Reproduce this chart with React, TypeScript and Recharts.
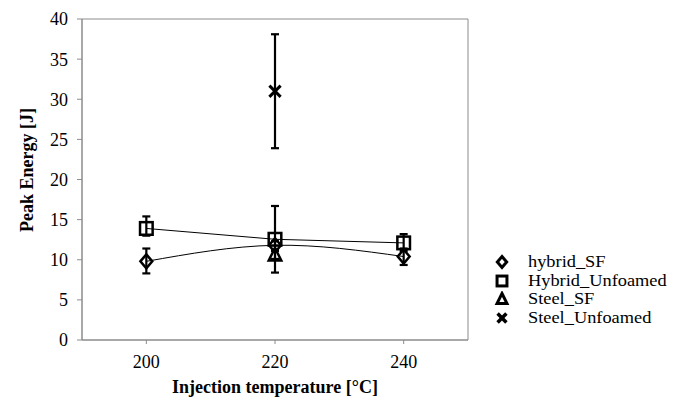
import {
  ComposedChart,
  Line,
  XAxis,
  YAxis,
  ErrorBar,
  ReferenceArea,
  Label,
} from "recharts";

const temps = [200, 220, 240];
const hybridSF = [9.8, 11.8, 10.4];
const hybridSFErr = [[1.5, 1.6], [0.5, 0.5], [1.05, 1.0]];
const hybridUnfoamed = [13.9, 12.55, 12.1];
const hybridUnfoamedErr = [[0.9, 1.5], [4.15, 4.15], [1.0, 1.1]];
const steelSF = [null, 10.6, null];
const steelSFErr = [null, [0.5, 0.5], null];
const steelUnfoamed = [null, 31, null];
const steelUnfoamedErr = [null, [7.1, 7.1], null];

const xTicks = [200, 220, 240];
const yTicks = [0, 5, 10, 15, 20, 25, 30, 35, 40];
const seriesNames = ["hybrid_SF", "Hybrid_Unfoamed", "Steel_SF", "Steel_Unfoamed"];

const rows = temps.map((t, i) => ({
  t,
  hybridSF: hybridSF[i],
  hybridSFErr: hybridSFErr[i],
  hybridUnfoamed: hybridUnfoamed[i],
  hybridUnfoamedErr: hybridUnfoamedErr[i],
  steelSF: steelSF[i],
  steelSFErr: steelSFErr[i],
  steelUnfoamed: steelUnfoamed[i],
  steelUnfoamedErr: steelUnfoamedErr[i],
}));

const FONT = "Liberation Serif, Times New Roman, serif";
const AXIS = "#8c8c8c";

type Shape = "diamond" | "square" | "triangle" | "cross";
const shapes: Shape[] = ["diamond", "square", "triangle", "cross"];

function marker(shape: Shape, cx: number, cy: number, s: number, sw: number, key?: any) {
  if (shape === "diamond")
    return (
      <polygon key={key} points={`${cx},${cy - s} ${cx + s * 0.85},${cy} ${cx},${cy + s} ${cx - s * 0.85},${cy}`}
        fill="none" stroke="#000" strokeWidth={sw} />
    );
  if (shape === "square")
    return <rect key={key} x={cx - s * 0.9} y={cy - s * 0.9} width={s * 1.8} height={s * 1.8} fill="none" stroke="#000" strokeWidth={sw} />;
  if (shape === "triangle")
    return (
      <polygon key={key} points={`${cx},${cy - s} ${cx + s * 0.9},${cy + s * 0.8} ${cx - s * 0.9},${cy + s * 0.8}`}
        fill="none" stroke="#000" strokeWidth={sw} />
    );
  return (
    <g key={key} stroke="#000" strokeWidth={sw + 0.5}>
      <line x1={cx - s * 0.8} y1={cy - s * 0.8} x2={cx + s * 0.8} y2={cy + s * 0.8} />
      <line x1={cx - s * 0.8} y1={cy + s * 0.8} x2={cx + s * 0.8} y2={cy - s * 0.8} />
    </g>
  );
}

const dotFor = (shape: Shape) => (p: any) => {
  if (p.cy == null || p.value == null) return <g key={p.index} />;
  return marker(shape, p.cx, p.cy, 7, 2.5, p.index);
};

function LegendBox() {
  return (
    <div style={{ position: "absolute", left: 493, top: 253, fontFamily: FONT, fontSize: 17, color: "#000" }}>
      {seriesNames.map((n, i) => (
        <div key={n} style={{ display: "flex", alignItems: "center", height: 18.5, lineHeight: "18.5px", whiteSpace: "nowrap" }}>
          <svg width={20} height={16} style={{ marginRight: 15 }}>
            {marker(shapes[i], 9, 8, 5.5, 3)}
          </svg>
          <span style={{ transform: "scaleX(1.08)", transformOrigin: "left center", display: "inline-block" }}>{n}</span>
        </div>
      ))}
    </div>
  );
}

export default function App() {
  return (
    <div style={{ position: "absolute", left: 0, top: 0, width: 687, height: 398, background: "#fff", fontFamily: FONT }}>
      <ComposedChart width={687} height={398} data={rows} margin={{ top: 19, right: 219, left: 0, bottom: 0 }}>
        <XAxis
          dataKey="t"
          type="number"
          domain={[190, 250]}
          ticks={xTicks}
          tickSize={4}
          tickMargin={11}
          height={58}
          stroke={AXIS}
          tick={{ fill: "#000", fontSize: 18, fontFamily: FONT }}
        >
          <Label
            content={() => (
              <text x={275} y={393} textAnchor="middle" fontFamily={FONT} fontSize={18} fontWeight="bold" fill="#000">
                Injection temperature [°C]
              </text>
            )}
          />
        </XAxis>
        <YAxis
          type="number"
          domain={[0, 40]}
          ticks={yTicks}
          tickSize={5}
          tickMargin={9}
          width={82}
          stroke={AXIS}
          tick={{ fill: "#000", fontSize: 18, fontFamily: FONT }}
        >
          <Label
            content={() => (
              <text x={33} y={170} transform="rotate(-90 33 170)" textAnchor="middle" fontFamily={FONT} fontSize={18} fontWeight="bold" fill="#000">
                Peak Energy [J]
              </text>
            )}
          />
        </YAxis>
        <ReferenceArea x1={190} x2={250} y1={0} y2={40} fill="none" stroke={AXIS} strokeWidth={1} />
        <Line name={seriesNames[0]} dataKey="hybridSF" type="natural" stroke="#000" strokeWidth={1} dot={dotFor("diamond")} activeDot={false} isAnimationActive={false}>
          <ErrorBar dataKey="hybridSFErr" direction="y" width={4} stroke="#000" strokeWidth={2.2} />
        </Line>
        <Line name={seriesNames[1]} dataKey="hybridUnfoamed" type="linear" stroke="#000" strokeWidth={1} dot={dotFor("square")} activeDot={false} isAnimationActive={false}>
          <ErrorBar dataKey="hybridUnfoamedErr" direction="y" width={4} stroke="#000" strokeWidth={2.2} />
        </Line>
        <Line name={seriesNames[2]} dataKey="steelSF" stroke="none" dot={dotFor("triangle")} activeDot={false} isAnimationActive={false}>
          <ErrorBar dataKey="steelSFErr" direction="y" width={4} stroke="#000" strokeWidth={2.2} />
        </Line>
        <Line name={seriesNames[3]} dataKey="steelUnfoamed" stroke="none" dot={dotFor("cross")} activeDot={false} isAnimationActive={false}>
          <ErrorBar dataKey="steelUnfoamedErr" direction="y" width={4} stroke="#000" strokeWidth={2.2} />
        </Line>
      </ComposedChart>
      <LegendBox />
    </div>
  );
}
